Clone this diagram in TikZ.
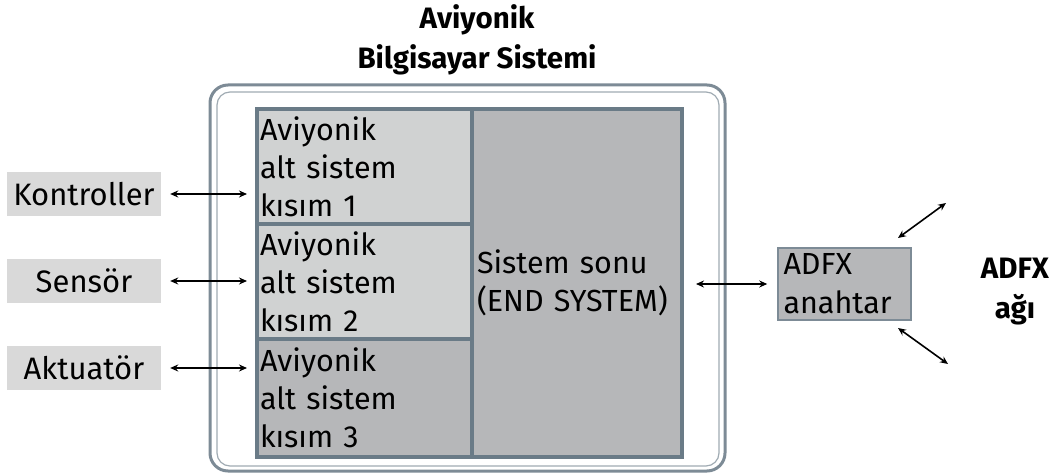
\documentclass[tikz,border=0pt]{standalone}
\usepackage{fontspec}
\setmainfont{Fira Sans}
\usetikzlibrary{arrows.meta}
\definecolor{gridline}{HTML}{6A7B87}
\definecolor{lightcell}{HTML}{D0D2D2}
\definecolor{darkcell}{HTML}{B6B7B9}
\definecolor{labelfill}{HTML}{D9D9D9}
\definecolor{frameout}{HTML}{7D8B96}
\definecolor{framein}{HTML}{A0ABB3}
\tikzset{
  cell/.style={draw=gridline, line width=4pt, anchor=north west, inner sep=0pt,
    align=left, text width=#1, font=\fontsize{30.5}{38}\selectfont},
  extlabel/.style={fill=labelfill, minimum width=154pt, minimum height=44pt, inner sep=0pt,
    font=\fontsize{31}{34}\selectfont},
  biarrow/.style={{Stealth[length=8pt,width=7pt]}-{Stealth[length=8pt,width=7pt]}, line width=1.6pt},
  titletext/.style={font=\fontsize{29.5}{40}\selectfont\bfseries, align=center}
}
\begin{document}
\begin{tikzpicture}[x=1pt,y=-1pt]
\useasboundingbox[fill=white] (0,0) rectangle (1059,473);
% container
\draw[frameout, line width=3pt, rounded corners=18pt] (210,85) rectangle (725,471);
\draw[framein, line width=1.2pt, rounded corners=13pt] (217,92) rectangle (719,466);
% title
\node[titletext] (title) at (477,40) {Aviyonik\\Bilgisayar Sistemi};
% grid cells
\node[cell=209pt, fill=lightcell, minimum width=215pt, minimum height=115pt] (sub1) at (255,107) {Aviyonik\\alt sistem\\kısım 1};
\node[cell=209pt, fill=lightcell, minimum width=215pt, minimum height=115pt] (sub2) at (255,222) {Aviyonik\\alt sistem\\kısım 2};
\node[cell=209pt, fill=darkcell, minimum width=215pt, minimum height=118pt] (sub3) at (255,337) {Aviyonik\\alt sistem\\kısım 3};
\node[cell=200pt, fill=darkcell, minimum width=210pt, minimum height=348pt] (es) at (470,107) {Sistem sonu\\(END SYSTEM)};
% external labels
\node[extlabel] (kon) at (84,194) {Kontroller};
\node[extlabel] (sen) at (84,281) {Sensör};
\node[extlabel] (akt) at (84,368) {Aktuatör};
% ADFX switch
\node[draw=frameout, line width=1.5pt, fill=darkcell, minimum width=133pt, minimum height=72pt,
  inner sep=0pt, align=left, text width=122pt, font=\fontsize{30.5}{39}\selectfont] (adfx) at (844.5,284) {ADFX\\anahtar};
\node[titletext] (net) at (1015,292) {ADFX\\ağı};
% connectors
\draw[biarrow, shorten <=9pt, shorten >=8pt] (kon.east) -- (kon.east -| sub1.west);
\draw[biarrow, shorten <=9pt, shorten >=8pt] (sen.east) -- (sen.east -| sub2.west);
\draw[biarrow, shorten <=9pt, shorten >=8pt] (akt.east) -- (akt.east -| sub3.west);
\draw[biarrow, shorten <=12pt, shorten >=10pt] (adfx.west -| es.east) -- (adfx.west);
\coordinate (nettop) at (946,203);
\coordinate (netbot) at (948,364);
\coordinate (adfxtop) at (898,238);
\coordinate (adfxbot) at (898,328);
\draw[biarrow] (adfxtop) -- (nettop);
\draw[biarrow] (adfxbot) -- (netbot);
\end{tikzpicture}
\end{document}
